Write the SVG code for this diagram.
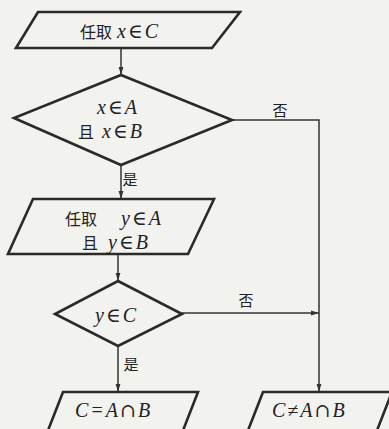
<svg xmlns="http://www.w3.org/2000/svg" width="389" height="429" viewBox="0 0 389 429">
<style>
.shape{fill:none;stroke:#2a2a2a;stroke-width:2.6;stroke-linejoin:miter}
.conn{fill:none;stroke:#333;stroke-width:1.5}
.cjk{font-family:"Noto Sans CJK SC","Noto Sans CJK JP",sans-serif;font-size:16px;fill:#222}
.math{font-family:"Liberation Serif","DejaVu Serif",serif;font-style:italic;font-size:20px;letter-spacing:2px;fill:#222}
.cap{font-family:"DejaVu Serif",serif;font-style:normal;font-size:19px}
.lbl{font-family:"Noto Sans CJK SC",sans-serif;font-size:15px;fill:#222}
</style>
<defs>
<marker id="arr" viewBox="0 0 10 10" refX="10" refY="5" markerWidth="10" markerHeight="8" markerUnits="userSpaceOnUse" orient="auto">
<path d="M0,2 L10,5 L0,8 Z" fill="#333"/>
</marker>
</defs>
<rect width="389" height="429" fill="#f2f2ef"/>
<g id="connectors">
<line class="conn" x1="121" y1="48" x2="121" y2="75" marker-end="url(#arr)"/>
<line class="conn" x1="121" y1="165" x2="121" y2="199" marker-end="url(#arr)"/>
<line class="conn" x1="118" y1="254" x2="118" y2="281" marker-end="url(#arr)"/>
<line class="conn" x1="118" y1="346" x2="118" y2="392" marker-end="url(#arr)"/>
<polyline class="conn" points="232,120 319,120 319,392" marker-end="url(#arr)"/>
<line class="conn" x1="182" y1="313" x2="319" y2="313" marker-end="url(#arr)"/>
<text class="lbl" x="130" y="185" text-anchor="middle">是</text>
<text class="lbl" x="131" y="370" text-anchor="middle">是</text>
<text class="lbl" x="280" y="116" text-anchor="middle">否</text>
<text class="lbl" x="246" y="306" text-anchor="middle">否</text>
</g>
<g id="start">
<polygon class="shape" points="38,12 240,12 212,48 16,48"/>
<text x="80" y="38"><tspan class="cjk">任取</tspan><tspan class="math" dx="5">x∈C</tspan></text>
</g>
<g id="decision1">
<polygon class="shape" points="121,75 232,120 121,165 14,118"/>
<text x="97" y="114" class="math">x∈A</text>
<text x="78" y="138"><tspan class="cjk">且</tspan><tspan class="math" dx="8">x∈B</tspan></text>
</g>
<g id="process2">
<polygon class="shape" points="33,199 214,199 188,254 8,254"/>
<text x="65" y="225"><tspan class="cjk">任取</tspan><tspan class="math" dx="24">y∈A</tspan></text>
<text x="82" y="249"><tspan class="cjk">且</tspan><tspan class="math" dx="10">y∈B</tspan></text>
</g>
<g id="decision2">
<polygon class="shape" points="118,281 182,314 118,346 55,314"/>
<text x="95" y="322" class="math">y∈C</text>
</g>
<g id="out1">
<polygon class="shape" points="63,392 198,392 182,433 47,433"/>
<text x="75" y="417" class="math">C=A<tspan class="cap">∩</tspan>B</text>
</g>
<g id="out2">
<polygon class="shape" points="263,392 392,392 376,433 247,433"/>
<text x="272" y="417" class="math">C≠A<tspan class="cap">∩</tspan>B</text>
</g>
</svg>
